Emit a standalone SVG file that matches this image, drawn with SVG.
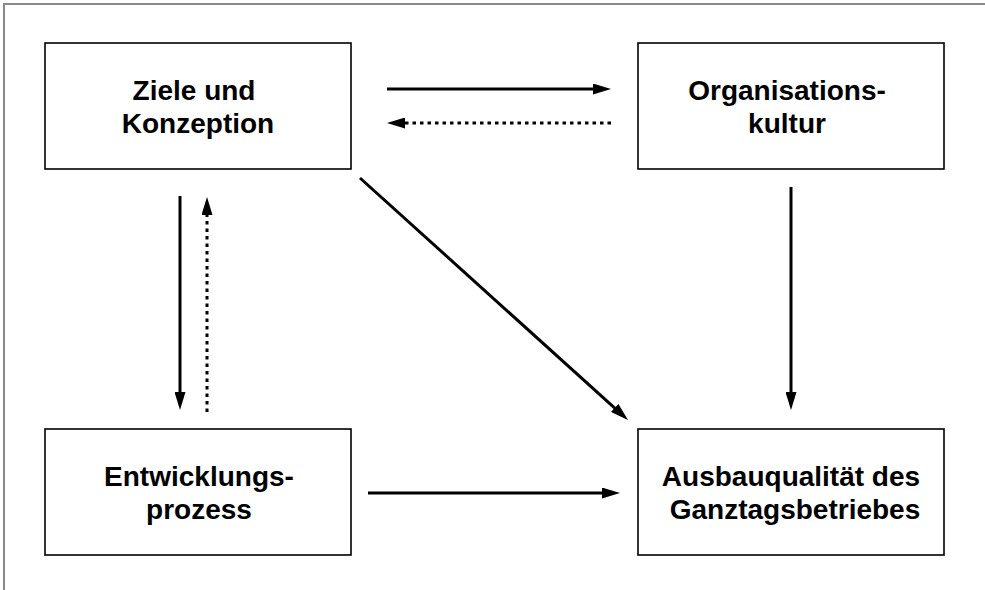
<svg xmlns="http://www.w3.org/2000/svg" width="985" height="590" viewBox="0 0 985 590">
<style>
.box{fill:#fff;stroke:#000;stroke-width:1.6}
.lbl{font-family:"Liberation Sans",Arial,sans-serif;font-weight:bold;font-size:28px;fill:#000;text-anchor:middle}
.c{stroke:#000;stroke-width:3;fill:none}
.dot{stroke-dasharray:3.5 4}
</style>
<defs>
<marker id="ah" markerUnits="userSpaceOnUse" markerWidth="18" markerHeight="11" refX="8" refY="5.5" orient="auto">
<path d="M0,0 L18,5.5 L0,11 z" fill="#000"/>
</marker>
</defs>
<path d="M4,590 L4,4 L985,4" fill="none" stroke="#8a8a8a" stroke-width="2"/>
<g id="ziele">
<rect class="box" x="45" y="43" width="306" height="126"/>
<text class="lbl" x="194" y="100">Ziele und</text>
<text class="lbl" x="198" y="133">Konzeption</text>
</g>
<g id="organisation">
<rect class="box" x="638" y="43" width="306" height="126"/>
<text class="lbl" x="787" y="100">Organisations-</text>
<text class="lbl" x="787" y="133">kultur</text>
</g>
<g id="entwicklung">
<rect class="box" x="45" y="429" width="306" height="126"/>
<text class="lbl" x="199" y="486">Entwicklungs-</text>
<text class="lbl" x="199" y="519">prozess</text>
</g>
<g id="ausbau">
<rect class="box" x="638" y="429" width="306" height="126"/>
<text class="lbl" x="791" y="486">Ausbauqualität des</text>
<text class="lbl" x="795" y="519">Ganztagsbetriebes</text>
</g>
<g id="connectors">
<line class="c" x1="387" y1="89" x2="601" y2="89" marker-end="url(#ah)"/>
<line class="c dot" x1="611" y1="123" x2="397" y2="123" marker-end="url(#ah)"/>
<line class="c" x1="180" y1="196" x2="180" y2="400" marker-end="url(#ah)"/>
<line class="c dot" x1="207" y1="412" x2="207" y2="207" marker-end="url(#ah)"/>
<line class="c" x1="360" y1="178" x2="620.6" y2="413.3" marker-end="url(#ah)"/>
<line class="c" x1="791" y1="187" x2="791" y2="400" marker-end="url(#ah)"/>
<line class="c" x1="368" y1="493" x2="610" y2="493" marker-end="url(#ah)"/>
</g>
</svg>
